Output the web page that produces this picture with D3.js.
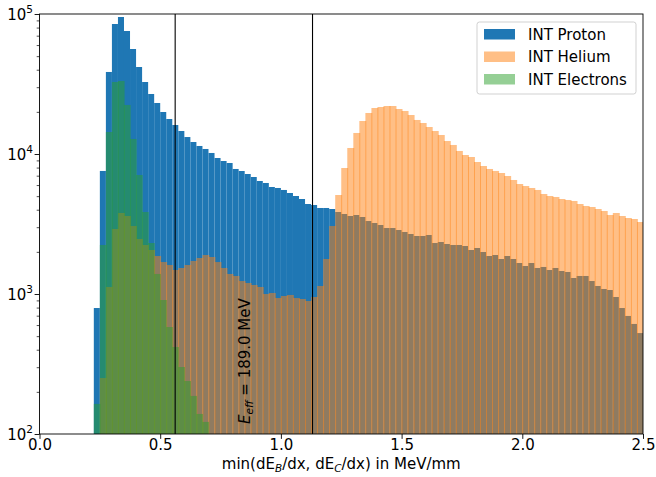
<!DOCTYPE html>
<html>
<head>
<meta charset="utf-8">
<script src="https://cdn.jsdelivr.net/npm/d3@7"></script>
<style>
  body { margin: 0; background: #fff; }
  text { font-family: "DejaVu Sans", sans-serif; fill: #000; }
</style>
</head>
<body>
<div id="chart"></div>
<script>
// histogram bins: width 0.025, left edges given by start + i*width
var binWidth = 0.025;
var protonStart = 0.225;
var protonCounts = [794, 7565, 38540, 84830, 95190, 75600, 56230, 41820, 32680, 26830,
  23140, 19950, 17780, 16110, 14600, 13220, 12180, 11410, 10860, 10170,
  9364, 8913, 8625, 7816, 7560, 7197, 6850, 6415, 6208, 5812,
  5718, 5534, 5266, 5012, 4770, 4394, 4323, 4115, 4115, 4047,
  3852, 3728, 3607, 3667, 3548, 3321, 3215, 3111, 2960, 2960,
  2865, 2773, 2683, 2596, 2596, 2639, 2313, 2352, 2276, 2239,
  2239, 2202, 2062, 2131, 1995, 1868, 1899, 1778, 1868, 1778,
  1665, 1585, 1665, 1534, 1560, 1484, 1534, 1460, 1436, 1301,
  1345, 1345, 1238, 1141, 1086, 1068, 952, 794, 697, 611, 526];

var heliumStart = 0.25;
var heliumCounts = [251, 1122, 2913, 3790, 3607, 3059, 2472, 2239, 2062, 1868,
  1692, 1611, 1484, 1534, 1611, 1721, 1808, 1899, 1838, 1692,
  1534, 1390, 1345, 1238, 1198, 1160, 1122, 1000, 1017, 936,
  968, 984, 936, 921, 891, 952, 1141, 1778, 3059, 5095,
  7943, 11040, 14130, 17210, 19630, 21310, 21660, 22020, 22020, 20960,
  20290, 18990, 17500, 16650, 15590, 14600, 13670, 12380, 11600, 10510,
  9837, 9519, 8767, 8208, 7816, 7565, 7315, 6965, 6522, 6105,
  5906, 5718, 5534, 5180, 5012, 4931, 4770, 4693, 4617, 4394,
  4253, 4183, 4047, 3917, 3667, 3790, 3607, 3490, 3433, 3268];

var electronStart = 0.225;
var electronCounts = [164, 2239, 14360, 32680, 33220, 22390, 12800, 7079, 3852, 2313,
  1390, 906, 581, 418, 301, 239, 187, 139, 122];

var cutLines = [0.562, 1.131];
var xTicks = [0, 0.5, 1.0, 1.5, 2.0, 2.5];
var yTicks = [1e2, 1e3, 1e4, 1e5];
var seriesNames = ["INT Proton", "INT Helium", "INT Electrons"];

var width = 656, height = 477;
var margin = {top: 14, right: 13, bottom: 43, left: 39.5};
var fs = "15px", fsSmall = "10.5px";

var svg = d3.select("#chart").append("svg")
  .attr("width", width)
  .attr("height", height);

var x = d3.scaleLinear().domain([0, 2.5]).range([margin.left, width - margin.right]);
var y = d3.scaleLog().domain([1e2, 1e5]).range([height - margin.bottom, margin.top]);

svg.append("clipPath").attr("id", "plotclip")
  .append("rect")
  .attr("x", x(0)).attr("y", y(1e5))
  .attr("width", x(2.5) - x(0)).attr("height", y(1e2) - y(1e5));

function toBins(start, counts) {
  return counts.map(function(c, i) {
    return {x0: start + i * binWidth, x1: start + (i + 1) * binWidth, count: c};
  });
}

var plot = svg.append("g").attr("clip-path", "url(#plotclip)");

function drawHist(data, color, opacity, overlap) {
  plot.append("g")
    .selectAll("rect")
    .data(data)
    .enter()
    .append("rect")
    .attr("x", d => x(d.x0))
    .attr("width", d => x(d.x1) - x(d.x0) + overlap)
    .attr("y", d => y(d.count))
    .attr("height", d => y(1e2) - y(d.count))
    .attr("fill", color)
    .attr("fill-opacity", opacity);
}

drawHist(toBins(protonStart, protonCounts), "#1f77b4", 1, 0);
drawHist(toBins(heliumStart, heliumCounts), "#ff7f0e", 0.5, 0.9);
drawHist(toBins(electronStart, electronCounts), "#2ca02c", 0.5, 0.6);

// cut lines
plot.append("g").selectAll("line")
  .data(cutLines)
  .enter()
  .append("line")
  .attr("x1", d => x(d)).attr("x2", d => x(d))
  .attr("y1", y(1e5)).attr("y2", y(1e2))
  .attr("stroke", "#000")
  .attr("stroke-width", 1.1);

// annotation
var note = svg.append("text")
  .attr("transform", "translate(" + (x(0.85) + 5.5) + "," + (y(1e2) - 10) + ") rotate(-90)")
  .attr("font-size", fs);
note.append("tspan").attr("font-style", "italic").text("E");
note.append("tspan").attr("font-style", "italic").attr("font-size", fsSmall).attr("dy", 3).text("eff");
note.append("tspan").attr("dy", -3).text(" = 189.0 MeV");

// axes
var xAxis = d3.axisBottom(x).tickValues(xTicks).tickFormat(d3.format(".1f")).tickSize(4.9).tickPadding(0);
var gx = svg.append("g")
  .attr("transform", "translate(0," + y(1e2) + ")")
  .call(xAxis);
gx.select(".domain").remove();
gx.selectAll("text").attr("font-size", fs).attr("font-family", "DejaVu Sans");
gx.selectAll("line").attr("stroke-width", 0.9);

var minorTicks = [];
for (var e = 2; e < 5; e++) {
  for (var m = 2; m < 10; m++) minorTicks.push(m * Math.pow(10, e));
}
var gyMinor = svg.append("g")
  .attr("transform", "translate(" + x(0) + ",0)")
  .call(d3.axisLeft(y).tickValues(minorTicks).tickFormat("").tickSize(2.8));
gyMinor.select(".domain").remove();
gyMinor.selectAll("line").attr("stroke-width", 0.7);

var gy = svg.append("g")
  .attr("transform", "translate(" + x(0) + ",0)")
  .call(d3.axisLeft(y).tickValues(yTicks).tickFormat("").tickSize(4.9));
gy.select(".domain").remove();
gy.selectAll("line").attr("stroke-width", 0.9);

var yLabels = svg.append("g").selectAll("text")
  .data(yTicks)
  .enter()
  .append("text")
  .attr("x", x(0) - 6.5)
  .attr("y", d => y(d) + 5.5)
  .attr("text-anchor", "end")
  .attr("font-size", fs);
yLabels.append("tspan").text("10");
yLabels.append("tspan")
  .attr("font-size", fsSmall)
  .attr("dy", -6.5)
  .text(d => Math.round(Math.log10(d)));

// frame
svg.append("rect")
  .attr("x", x(0)).attr("y", y(1e5))
  .attr("width", x(2.5) - x(0)).attr("height", y(1e2) - y(1e5))
  .attr("fill", "none")
  .attr("stroke", "#000")
  .attr("stroke-width", 0.9);

// x label
var xl = svg.append("text")
  .attr("x", (x(0) + x(2.5)) / 2)
  .attr("y", height - 8)
  .attr("text-anchor", "middle")
  .attr("font-size", fs);
xl.append("tspan").text("min(dE");
xl.append("tspan").attr("font-style", "italic").attr("font-size", fsSmall).attr("dy", 3).text("B");
xl.append("tspan").attr("dy", -3).text("/dx, dE");
xl.append("tspan").attr("font-style", "italic").attr("font-size", fsSmall).attr("dy", 3).text("C");
xl.append("tspan").attr("dy", -3).text("/dx) in MeV/mm");

// legend
var legend = svg.append("g").attr("transform", "translate(477,22)");
legend.append("rect")
  .attr("width", 159).attr("height", 72)
  .attr("rx", 2.5)
  .attr("fill", "#fff").attr("fill-opacity", 0.8)
  .attr("stroke", "#ccc").attr("stroke-width", 0.9);
var legendColors = [["#1f77b4", 1], ["#ff7f0e", 0.5], ["#2ca02c", 0.5]];
var items = legend.selectAll("g.item")
  .data(seriesNames)
  .enter()
  .append("g")
  .attr("class", "item")
  .attr("transform", (d, i) => "translate(0," + (12 + i * 22.5) + ")");
items.append("rect")
  .attr("x", 7).attr("y", -5)
  .attr("width", 31).attr("height", 10.5)
  .attr("fill", (d, i) => legendColors[i][0])
  .attr("fill-opacity", (d, i) => legendColors[i][1]);
items.append("text")
  .attr("x", 51).attr("y", 5.5)
  .attr("font-size", fs)
  .text(d => d);
</script>
</body>
</html>
